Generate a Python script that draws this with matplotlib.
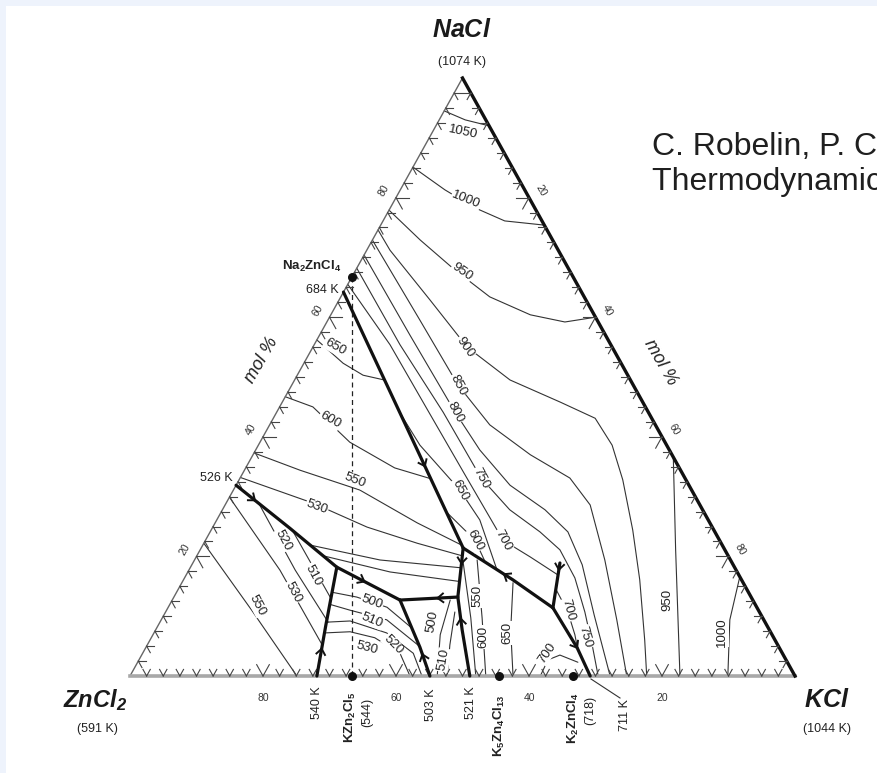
import numpy as np
import matplotlib
matplotlib.use("Agg")
import matplotlib.pyplot as plt
from matplotlib.patches import Rectangle

# ---------------------------------------------------------------
# Liquidus projection of the NaCl-KCl-ZnCl2 system.
# Every curve is a list of (mol % KCl, mol % NaCl) compositions.
# ---------------------------------------------------------------

# univariant lines (heavy)
UNI_684_A = [(0, 64.2), (39.4, 21.4)]
UNI_A_B = [(39.4, 21.4), (49.5, 16.1), (57.9, 11.4)]
UNI_B_CRIT = [(57.9, 11.4), (55.2, 18.9)]
UNI_B_711 = [(57.9, 11.4), (64.9, 4.7), (69.2, 0)]
UNI_526_C = [(0, 31.9), (11.7, 24.7), (22.0, 18.2), (34.25, 12.7)]
UNI_C_540 = [(22.0, 18.2), (25.2, 8.5), (28.1, 0)]
UNI_D_E = [(34.25, 12.7), (42.7, 13.2)]
UNI_D_503 = [(34.25, 12.7), (41.2, 4.8), (45.1, 0)]
UNI_A_521 = [(39.4, 21.4), (42.7, 13.2), (46.1, 7.7), (51.1, 0)]

# isotherms, NaCl-KCl solid solution field
ISO_1050 = [(0, 94.5), (3.9, 93.0), (8.0, 92.0)]
ISO_1000 = [(0, 85.1), (6.7, 81.3), (12.7, 78.3), (18.3, 76.1), (24.6, 75.4)]
ISO_950_NA = [(0, 77.9), (7.2, 72.9), (14.9, 67.9), (22.4, 63.4), (30.0, 60.4),
              (35.8, 59.2), (40.0, 60.0)]
ISO_900 = [(0, 74.6), (3.5, 71.2), (13.65, 62.9), (23.2, 55.0), (32.4, 49.5),
           (41.8, 45.8), (48.4, 43.1), (53.2, 38.6), (57.7, 32.8), (63.4, 24.4),
           (68.6, 16.1), (74.4, 6.0), (77.7, 0)]
ISO_850 = [(0, 72.9), (13.85, 59.5), (24.95, 48.7), (33.1, 42.0), (41.7, 37.0),
           (49.6, 33.1), (54.9, 28.6), (61.7, 19.4), (68.5, 9.4), (74.7, 0)]
ISO_800 = [(0, 70.4), (13.6, 57.0), (26.85, 44.1), (33.7, 37.8), (41.2, 31.9),
           (48.5, 27.8), (53.8, 24.1), (58.7, 18.6), (64.7, 10.2), (72.2, 0)]
ISO_750 = [(0, 68.2), (12.9, 55.4), (25.05, 44.1), (36.25, 33.1), (43.2, 27.8),
           (49.6, 24.1), (54.1, 21.1), (58.7, 16.4), (63.05, 10.7), (66.9, 5.2),
           (70.4, 0)]
ISO_700 = [(0, 65.5), (11.4, 55.4), (22.9, 44.1), (33.6, 33.6), (44.75, 22.7),
           (50.25, 19.9), (55.9, 16.9)]
ISO_700_B = [(56.9, 14.4), (60.5, 10.7), (63.45, 6.9), (65.2, 4.3)]
ISO_650_NA = [(18.6, 44.0), (24.3, 38.6), (34.05, 31.1), (39.55, 26.1), (46.35, 17.7)]
ISO_600_NA = [(33.9, 27.4), (40.55, 22.7), (43.85, 19.1)]
ISO_950_K = [(63.4, 36.6), (71.5, 21.1), (82.7, 0)]
ISO_1000_K = [(83.4, 16.6), (85.5, 9.4), (89.9, 0)]

# isotherms, Na2ZnCl4 field
ISO_650_NZ = [(0, 56.2), (5.9, 52.3), (9.9, 50.3), (13.5, 49.5)]
ISO_600_NZ = [(0, 46.7), (5.0, 45.0), (13.5, 39.1), (22.4, 34.8), (28.7, 33.0)]
ISO_550_NZ = [(0, 37.3), (8.4, 34.4), (19.0, 31.1), (30.4, 25.6), (38.9, 21.9)]
ISO_530_NZ = [(0, 33.2), (13.1, 28.9), (23.2, 24.9), (32.1, 22.2), (39.9, 20.1)]
ISO_520_NZ = [(16.1, 21.9), (27.9, 19.4), (40.7, 18.1)]
ISO_510_NZ = [(19.0, 20.1), (30.4, 17.4), (41.7, 15.8)]

# isotherms, ZnCl2 field
ISO_550_Z = [(0, 22.2), (12.8, 11.0), (25.1, 0)]
ISO_530_Z = [(0, 29.9), (13.7, 17.7), (26.3, 5.2)]
ISO_520_Z = [(5.2, 28.6), (16.0, 17.7), (25.3, 9.0)]
ISO_510_Z = [(12.2, 24.4), (23.7, 13.0)]

# isotherms, KZn2Cl5 field
ISO_530_KZ = [(25.6, 7.2), (29.4, 7.4), (33.6, 6.4), (38.7, 3.8), (42.1, 0)]
ISO_520_KZ = [(25.0, 9.0), (28.5, 9.2), (35.0, 7.2), (40.7, 3.8), (43.9, 0)]
ISO_510_KZ = [(24.0, 12.0), (27.6, 11.0), (33.9, 9.4), (41.0, 5.0)]
ISO_500_KZ = [(23.4, 14.0), (27.5, 13.2), (32.9, 11.5), (38.4, 8.0)]

# isotherms near the KCl-ZnCl2 compounds
ISO_500_E = [(41.8, 12.7), (43.2, 6.9), (46.2, 0)]
ISO_510_E = [(43.5, 10.7), (45.5, 5.2), (47.7, 0)]
ISO_550_K5 = [(40.6, 19.0), (46.4, 9.7), (52.0, 0)]
ISO_600_K5 = [(42.5, 19.4), (48.1, 9.7), (53.5, 0)]
ISO_650_K5 = [(49.8, 15.6), (53.4, 7.7), (57.6, 0)]
ISO_700_K2 = [(61.7, 0), (61.5, 2.7), (62.9, 3.5), (65.1, 2.7), (66.2, 2.3)]

# compounds (KCl %, NaCl %)
COMPOUNDS = ["Na2ZnCl4", "KZn2Cl5", "K5Zn4Cl13", "K2ZnCl4"]
COMP_K = [0, 100 / 3, 500 / 9, 200 / 3]
COMP_N = [200 / 3, 0, 0, 0]

TICK_STEP = 2.5
EDGE_LABELS = [20, 40, 60, 80]

# ---------------------------------------------------------------
W, H = 877, 773
plt.rcParams['font.family'] = ['Liberation Sans', 'DejaVu Sans']
plt.rcParams['mathtext.fontset'] = 'custom'
plt.rcParams['mathtext.rm'] = 'Liberation Sans'
plt.rcParams['mathtext.it'] = 'Liberation Sans:italic'
plt.rcParams['mathtext.bf'] = 'Liberation Sans:bold'
plt.rcParams['mathtext.bfit'] = 'Liberation Sans:italic:bold'

fig = plt.figure(figsize=(W / 100, H / 100), dpi=100)
fig.patch.set_facecolor('#eef3fc')
fig.patches.append(Rectangle((6 / W, 0), 1, (H - 6) / H, transform=fig.transFigure,
                             facecolor='white', edgecolor='none', zorder=-10))

# triangle placement on the page (pixels)
PX0, PX1, PYB, PYT = 130, 795, 676, 78
SX, SY = PX1 - PX0, PYB - PYT
ax = fig.add_axes([0, 0, 1, 1])
ax.set_xlim(-PX0 / SX, (W - PX0) / SX)
ax.set_ylim((PYB - H) / SY, PYB / SY)
ax.patch.set_visible(False)
ax.axis('off')


def tern(k, n):
    k = np.asarray(k, float)
    n = np.asarray(n, float)
    return (k + n / 2) / 100, n / 100


def P(x, y):
    """page pixel -> axes data coordinates (for text placement)"""
    return (x - PX0) / SX, (PYB - y) / SY


def curve(pts, lw=0.8, color='#333333', z=2, **kw):
    k, n = zip(*pts)
    x, y = tern(k, n)
    ax.plot(x, y, color=color, lw=lw, zorder=z, solid_capstyle='round', **kw)


# triangle edges
ax.plot(*tern([0, 0], [0, 100]), color='#666666', lw=1.0, zorder=3)
ax.plot(*tern([0, 100], [0, 0]), color='#a8a8a8', lw=2.6, zorder=3)
ax.plot(*tern([100, 0], [0, 100]), color='#111111', lw=2.4, zorder=3)

# edge ticks: short segments along the two other grid directions
def tick_pair(k, n, d1, d2, L):
    for dk, dn in (d1, d2):
        x, y = tern([k, k + dk * L], [n, n + dn * L])
        ax.plot(x, y, color='#444444', lw=0.8, zorder=3)

for v in np.arange(TICK_STEP, 100, TICK_STEP):
    L = 1.9 if v % 20 == 0 else 1.1
    # bottom edge (ZnCl2-KCl), point with KCl = v
    tick_pair(v, 0, (0, 1), (-1, 1), L)
    # left edge (ZnCl2-NaCl), NaCl = v
    tick_pair(0, v, (1, 0), (1, -1), L)
    # right edge (NaCl-KCl), NaCl = v
    tick_pair(100 - v, v, (-1, 0), (0, -1), L)

lab_kw = dict(fontsize=7.5, color='#333333', ha='center', va='center')
for v in EDGE_LABELS:
    bx, by = tern(v, 0)
    ax.text(bx, by - 0.037, str(100 - v), **lab_kw)
    lx, ly = tern(0, v)
    ax.text(lx - 0.018, ly + 0.012, str(v), rotation=60, **lab_kw)
    rx, ry = tern(100 - v, v)
    ax.text(rx + 0.018, ry + 0.012, str(100 - v), rotation=-60, **lab_kw)

# isotherms
for c in [ISO_1050, ISO_1000, ISO_950_NA, ISO_900, ISO_850, ISO_800, ISO_750,
          ISO_700, ISO_700_B, ISO_650_NA, ISO_600_NA, ISO_950_K, ISO_1000_K,
          ISO_650_NZ, ISO_600_NZ, ISO_550_NZ, ISO_530_NZ, ISO_520_NZ, ISO_510_NZ,
          ISO_550_Z, ISO_530_Z, ISO_520_Z, ISO_510_Z,
          ISO_530_KZ, ISO_520_KZ, ISO_510_KZ, ISO_500_KZ,
          ISO_500_E, ISO_510_E, ISO_550_K5, ISO_600_K5, ISO_650_K5, ISO_700_K2]:
    curve(c)

# univariant lines
HEAVY = [UNI_684_A, UNI_A_B, UNI_B_CRIT, UNI_B_711, UNI_526_C, UNI_C_540,
         UNI_D_E, UNI_D_503, UNI_A_521]
for c in HEAVY:
    curve(c, lw=2.3, color='#111111', z=4)


# arrowheads marking falling temperature along univariant lines
def arrow_on(pts, frac, flip=False, size=7):
    k, n = zip(*pts)
    x, y = tern(k, n)
    xp, yp = np.array(x) * SX, np.array(y) * SY
    seg = np.hypot(np.diff(xp), np.diff(yp))
    cum = np.concatenate([[0], np.cumsum(seg)])
    s = frac * cum[-1]
    i = min(np.searchsorted(cum, s) - 1, len(seg) - 1)
    i = max(i, 0)
    t = (s - cum[i]) / seg[i]
    px_ = xp[i] + t * (xp[i + 1] - xp[i])
    py_ = yp[i] + t * (yp[i + 1] - yp[i])
    d = np.array([xp[i + 1] - xp[i], yp[i + 1] - yp[i]]) / seg[i]
    if flip:
        d = -d
    for a in (np.radians(38), -np.radians(38)):
        r = np.array([[np.cos(a), -np.sin(a)], [np.sin(a), np.cos(a)]]) @ (-d)
        ax.plot([px_ / SX, (px_ + size * r[0]) / SX], [py_ / SY, (py_ + size * r[1]) / SY],
                color='#111111', lw=1.4, zorder=5)

arrow_on(UNI_684_A, 0.68)
arrow_on(UNI_526_C, 0.12)
arrow_on(UNI_526_C, 0.80)
arrow_on(UNI_C_540, 0.75, flip=True)
arrow_on(UNI_D_503, 0.72, flip=True)
arrow_on(UNI_D_E, 0.65, flip=True)
arrow_on(UNI_A_521, 0.12)
arrow_on(UNI_A_521, 0.55, flip=True)
arrow_on(UNI_A_B, 0.45, flip=True)
arrow_on(UNI_B_CRIT, 0.85, flip=True)
arrow_on(UNI_B_711, 0.60)

# join Na2ZnCl4 - KZn2Cl5
ax.plot(*tern([COMP_K[0], COMP_K[1]], [COMP_N[0], COMP_N[1]]), color='#222222',
        lw=0.9, ls=(0, (4, 3)), zorder=2)

# compound points
cx, cy = tern(COMP_K, COMP_N)
ax.scatter(cx, cy, s=30, color='#111111', zorder=6)

# isotherm labels (text, page position, rotation)
ISO_LABELS = [
    ("1050", 463, 132, -12), ("1000", 466, 200, -22), ("950", 462, 272, -35),
    ("900", 465, 347, -55), ("850", 458, 385, -62), ("800", 455, 412, -62),
    ("750", 481, 478, -62), ("700", 503, 540, -62), ("650", 460, 490, -62),
    ("600", 475, 540, -62), ("650", 335, 347, -30), ("600", 330, 420, -30),
    ("550", 355, 480, -22), ("530", 317, 507, -20), ("520", 283, 540, -62),
    ("510", 313, 575, -62), ("530", 293, 592, -62), ("550", 257, 605, -62),
    ("500", 372, 602, -20), ("510", 372, 620, -22), ("520", 393, 645, -45),
    ("530", 367, 648, -15), ("500", 432, 622, 80), ("510", 443, 660, 80),
    ("550", 477, 596, 90), ("600", 483, 637, 90), ("650", 507, 633, 90),
    ("700", 547, 653, 55), ("700", 568, 610, -75), ("750", 585, 637, -75),
    ("950", 667, 600, 90), ("1000", 722, 632, 90),
]
for s, x, y, r in ISO_LABELS:
    ax.text(*P(x, y), s, rotation=r, fontsize=9.5, color='#222222', ha='center',
            va='center', zorder=7, rotation_mode='anchor',
            bbox=dict(boxstyle='square,pad=0.05', fc='white', ec='none'))

# invariant points
INV = [("684 K", 322, 290, 0), ("526 K", 216, 478, 0), ("540 K", 317, 703, 90),
       ("503 K", 431, 705, 90), ("521 K", 471, 703, 90), ("711 K", 625, 715, 90)]
for s, x, y, r in INV:
    ax.text(*P(x, y), s, rotation=r, fontsize=9, color='#222222', ha='center',
            va='center', zorder=7)
ax.plot(*zip(P(591, 679), P(620, 698)), color='#333333', lw=0.8, zorder=3)

# compound names
ax.text(*P(312, 266), r"$\mathbf{Na_2ZnCl_4}$", fontsize=9.5, color='#222222',
        ha='center', va='center', zorder=7)
ax.text(*P(350, 717), r"$\mathbf{KZn_2Cl_5}$", rotation=90, fontsize=9.5,
        color='#222222', ha='center', va='center', zorder=7)
ax.text(*P(367, 712), "(544)", rotation=90, fontsize=9, color='#222222',
        ha='center', va='center', zorder=7)
ax.text(*P(499, 726), r"$\mathbf{K_5Zn_4Cl_{13}}$", rotation=90, fontsize=9.5,
        color='#222222', ha='center', va='center', zorder=7)
ax.text(*P(573, 718), r"$\mathbf{K_2ZnCl_4}$", rotation=90, fontsize=9.5,
        color='#222222', ha='center', va='center', zorder=7)
ax.text(*P(590, 710), "(718)", rotation=90, fontsize=9, color='#222222',
        ha='center', va='center', zorder=7)

# corner components
ax.text(*P(462, 30), r"$\mathbfit{NaCl}$", fontsize=18, color='#1a1a1a',
        ha='center', va='center')
ax.text(*P(462, 62), "(1074 K)", fontsize=9, color='#222222', ha='center', va='center')
ax.text(*P(95, 700), r"$\mathbfit{ZnCl_2}$", fontsize=17, color='#1a1a1a',
        ha='center', va='center')
ax.text(*P(97, 729), "(591 K)", fontsize=9, color='#222222', ha='center', va='center')
ax.text(*P(827, 700), r"$\mathbfit{KCl}$", fontsize=18, color='#1a1a1a',
        ha='center', va='center')
ax.text(*P(827, 729), "(1044 K)", fontsize=9, color='#222222', ha='center', va='center')

# axis titles
ax.text(*P(262, 360), "mol %", rotation=60, fontsize=13, style='italic',
        color='#222222', ha='center', va='center')
ax.text(*P(660, 362), "mol %", rotation=-60, fontsize=13, style='italic',
        color='#222222', ha='center', va='center')

# reference
fig.text(652 / W, 1 - 155 / H, "C. Robelin, P. Chartrand, A.D. Pelton", fontsize=23,
         color='#1f1f1f', ha='left', va='baseline')
fig.text(652 / W, 1 - 190 / H, "Thermodynamic evaluation and optimization", fontsize=23,
         color='#1f1f1f', ha='left', va='baseline')

fig.savefig("out.png", dpi=100, facecolor=fig.get_facecolor())
